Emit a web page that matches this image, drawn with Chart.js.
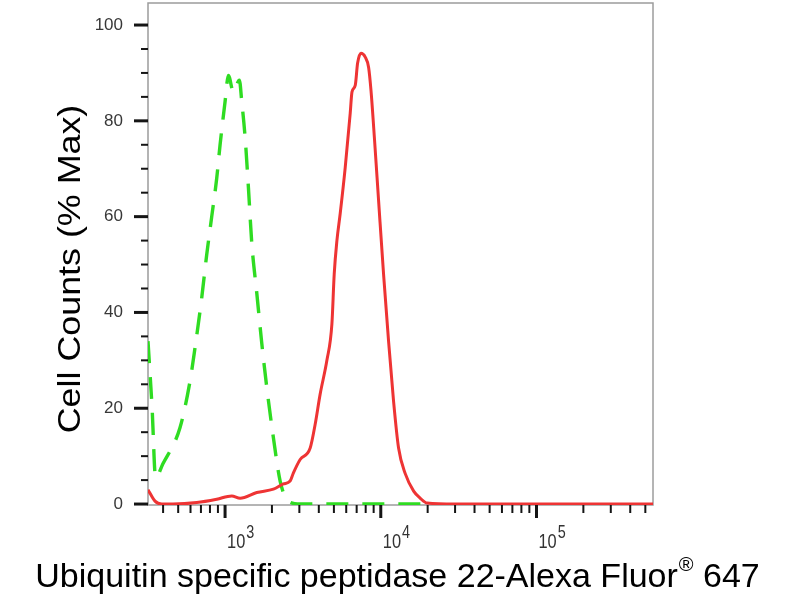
<!DOCTYPE html>
<html>
<head>
<meta charset="utf-8">
<script src="https://cdn.jsdelivr.net/npm/chart.js@4/dist/chart.umd.min.js"></script>
<style>
  html, body { margin: 0; padding: 0; background: #fff; }
  #wrap { width: 800px; height: 600px; }
</style>
</head>
<body>
<div id="wrap"><canvas id="chart" width="800" height="600"></canvas></div>
<script>
// stained sample (solid red)
const stainedX = [320, 355, 392, 463, 658, 884, 1104, 1249, 1599, 2045,
  2370, 2618, 2748, 3036, 3521, 3793, 4083, 4508, 4855, 5023,
  5228, 5491, 5912, 6365, 6530, 6855, 7096, 7460, 7950, 8350,
  8650, 9120, 9680, 10420, 11220, 12080, 13010, 14380, 16260, 17950,
  19820, 30000, 100000, 560000];
const stainedY = [3, 0.6, 0, 0, 0.3, 1, 1.7, 1.2, 2.4, 3.1,
  4.2, 4.8, 6.5, 9.3, 11.7, 16.7, 23, 30, 37.6, 48,
  55, 60.7, 70.3, 81.6, 86, 87.4, 92, 94.1, 93.3, 91.2,
  86.4, 76, 63.4, 48, 34, 21.5, 11.7, 6.3, 2.7, 1.2,
  0.2, 0, 0, 0];

// isotype control (dashed green); past ~2e4 it sits under the red line
const controlX = [320, 340, 358, 399, 514, 596, 641, 708, 762, 821,
  884, 929, 1000, 1050, 1131, 1236, 1280, 1345, 1413, 1485,
  1599, 1722, 1854, 2045, 2258, 2542, 3036, 5000, 10000, 19000];
const controlY = [34, 20, 5.5, 8.4, 16, 25.7, 32.6, 43, 52, 60,
  68, 75, 84, 89.5, 86, 88.5, 84, 76.6, 66, 54.4,
  44, 33.5, 24.3, 13.8, 4.8, 0.6, 0, 0, 0, 0];

const yTickValues = [0, 5, 10, 15, 20, 25, 30, 35, 40, 45, 50, 55, 60, 65, 70, 75, 80, 85, 90, 95, 100];
const xTickValues = [400, 500, 600, 700, 800, 900, 1000,
  2000, 3000, 4000, 5000, 6000, 7000, 8000, 9000, 10000,
  20000, 30000, 40000, 50000, 60000, 70000, 80000, 90000, 100000,
  200000, 300000, 400000, 500000];
const xLabelDecades = [1000, 10000, 100000];

const xTitleMain = 'Ubiquitin specific peptidase 22-Alexa Fluor';
const xTitleMark = '\u00AE';
const xTitleTail = ' 647';
const yTitle = 'Cell Counts (% Max)';

const FONT = '"Liberation Sans", Arial, sans-serif';

const toPoints = (xs, ys) => xs.map((x, i) => ({ x: x, y: ys[i] }));

// text with a horizontal squeeze/stretch, returns drawn width
function drawText(ctx, text, x, y, size, sx, align) {
    ctx.save();
    ctx.font = size + 'px ' + FONT;
    ctx.translate(x, y);
    ctx.scale(sx, 1);
    ctx.textAlign = align || 'left';
    ctx.textBaseline = 'alphabetic';
    ctx.fillText(text, 0, 0);
    const w = ctx.measureText(text).width * sx;
    ctx.restore();
    return w;
}

const framePlugin = {
    id: 'frame',
    beforeDatasetsDraw(chart) {
        const { ctx, chartArea: a } = chart;
        ctx.save();
        ctx.strokeStyle = '#9c9c9c';
        ctx.lineWidth = 1.5;
        ctx.strokeRect(a.left, a.top, a.right - a.left, a.bottom - a.top);
        ctx.restore();
    },
    afterDraw(chart) {
        const { ctx, chartArea: a, scales } = chart;
        ctx.save();
        ctx.strokeStyle = '#151515';

        // y tick marks, long every 20
        scales.y.ticks.forEach(t => {
            const py = scales.y.getPixelForValue(t.value);
            const major = t.value % 20 === 0;
            ctx.lineWidth = major ? 3 : 2;
            ctx.beginPath();
            ctx.moveTo(a.left - (major ? 14 : 7), py);
            ctx.lineTo(a.left, py);
            ctx.stroke();
        });

        // x tick marks, long on decades
        scales.x.ticks.forEach(t => {
            const px = scales.x.getPixelForValue(t.value);
            const major = xLabelDecades.includes(t.value);
            ctx.lineWidth = major ? 3 : 2;
            ctx.beginPath();
            ctx.moveTo(px, a.bottom);
            ctx.lineTo(px, a.bottom + (major ? 13 : 8));
            ctx.stroke();
        });

        // decade labels as 10 with raised exponent
        ctx.fillStyle = '#333';
        xLabelDecades.forEach(v => {
            const px = scales.x.getPixelForValue(v);
            const w = drawText(ctx, '10', px + 2, 548, 21, 0.78);
            drawText(ctx, String(Math.round(Math.log10(v))), px + 3 + w, 538, 18, 0.8);
        });

        // axis titles
        ctx.fillStyle = '#000';
        ctx.font = '34px ' + FONT;
        const w1 = ctx.measureText(xTitleMain).width;
        const w3 = ctx.measureText(xTitleTail).width;
        ctx.font = '20px ' + FONT;
        const w2 = ctx.measureText(xTitleMark).width;
        let tx = 397 - (w1 + w2 + w3) / 2;
        tx += drawText(ctx, xTitleMain, tx, 587, 34, 1);
        tx += drawText(ctx, xTitleMark, tx + 1, 571, 20, 1) + 1;
        drawText(ctx, xTitleTail, tx, 587, 34, 1);

        ctx.save();
        ctx.translate(80, 269);
        ctx.rotate(-Math.PI / 2);
        drawText(ctx, yTitle, 0, 0, 32, 1.12, 'center');
        ctx.restore();

        ctx.restore();
    }
};

function initChart() {
    const ctx = document.getElementById('chart').getContext('2d');
    new Chart(ctx, {
        type: 'line',
        data: {
            datasets: [{
                label: 'Stained',
                data: toPoints(stainedX, stainedY),
                borderColor: '#ee3434',
                borderWidth: 3,
                pointRadius: 0,
                cubicInterpolationMode: 'monotone',
                fill: false
            }, {
                label: 'Control',
                data: toPoints(controlX, controlY),
                borderColor: '#2fdc22',
                borderWidth: 3.4,
                borderDash: [22, 14],
                pointRadius: 0,
                cubicInterpolationMode: 'monotone',
                fill: false
            }]
        },
        options: {
            responsive: false,
            animation: false,
            layout: { padding: { top: 3, right: 147, left: 0, bottom: 0 } },
            plugins: {
                legend: { display: false },
                tooltip: { enabled: false }
            },
            scales: {
                x: {
                    type: 'logarithmic',
                    min: 320,
                    max: 560000,
                    grid: { display: false, drawTicks: false },
                    border: { display: false },
                    ticks: { display: false },
                    afterBuildTicks: s => { s.ticks = xTickValues.map(v => ({ value: v })); },
                    afterFit: s => { s.height = 95; s.paddingLeft = 0; s.paddingRight = 0; }
                },
                y: {
                    min: -0.2,
                    max: 104.6,
                    grid: { display: false, drawTicks: false },
                    border: { display: false },
                    ticks: {
                        autoSkip: false,
                        padding: 25,
                        color: '#383838',
                        font: { family: FONT, size: 17 },
                        callback: v => (v % 20 === 0 ? String(v) : '')
                    },
                    afterBuildTicks: s => { s.ticks = yTickValues.map(v => ({ value: v })); },
                    afterFit: s => { s.width = 148; s.paddingTop = 0; s.paddingBottom = 0; }
                }
            }
        },
        plugins: [framePlugin]
    });
}

window.onload = initChart;
</script>
</body>
</html>
